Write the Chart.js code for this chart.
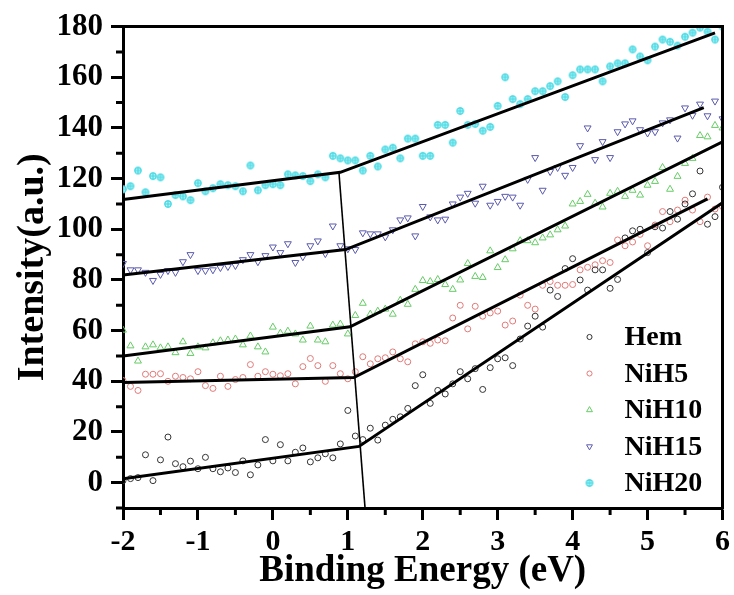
<!DOCTYPE html>
<html>
<head>
<meta charset="utf-8">
<script src="https://cdn.jsdelivr.net/npm/chart.js@4.4.1/dist/chart.umd.min.js"></script>
<style>
  html, body { margin: 0; padding: 0; background: #fff; }
  #wrap { width: 734px; height: 595px; }
</style>
</head>
<body>
<div id="wrap"><canvas id="xpsChart" width="734" height="595"></canvas></div>
<script>
const energy = [
  -2.0, -1.9, -1.8, -1.7, -1.6, -1.5, -1.4, -1.3, -1.2, -1.1,
  -1.0, -0.9, -0.8, -0.7, -0.6, -0.5, -0.4, -0.3, -0.2, -0.1,
  0.0, 0.1, 0.2, 0.3, 0.4, 0.5, 0.6, 0.7, 0.8, 0.9,
  1.0, 1.1, 1.2, 1.3, 1.4, 1.5, 1.6, 1.7, 1.8, 1.9,
  2.0, 2.1, 2.2, 2.3, 2.4, 2.5, 2.6, 2.7, 2.8, 2.9,
  3.0, 3.1, 3.2, 3.3, 3.4, 3.5, 3.6, 3.7, 3.8, 3.9,
  4.0, 4.1, 4.2, 4.3, 4.4, 4.5, 4.6, 4.7, 4.8, 4.9,
  5.0, 5.1, 5.2, 5.3, 5.4, 5.5, 5.6, 5.7, 5.8, 5.9,
  6.0
];

const hem = [
  0.8, 1.6, 2, 11, 0.8, 9, 18, 7.5, 6.3, 8.5,
  5.5, 10, 5.5, 4.3, 5.8, 4, 8.6, 3.1, 7, 17,
  8.6, 15, 8.6, 12, 13.7, 8.2, 9.8, 11.4, 9.8, 15.3,
  28.5, 18.4, 17, 21.5, 16.8, 22.7, 25, 26, 29.3, 38.3,
  42.6, 31.3, 36.4, 35, 39, 43.8, 41, 45, 36.8, 45.4,
  48.9, 49.3, 46.2, 56.7, 61.8, 65.7, 61.4, 76, 73.5, 84.5,
  88.4, 80, 76, 84, 84, 76.7, 80.2, 96.6, 99.4, 100,
  90.8, 101, 100.5, 107, 104, 110, 114, 123, 102, 105,
  116.6
];

const nih5 = [
  40.3, 38, 36.4, 42.8, 42.8, 43, 40, 42, 41.5, 41,
  43.8, 38.3, 37.2, 42, 38, 40.7, 41.5, 46.6, 42, 43.8,
  42.8, 42.2, 43, 39, 45.8, 49, 46.2, 40, 46.2, 43,
  41, 43.8, 49.7, 46.9, 48.9, 49.3, 51.6, 48.9, 47.7, 54.8,
  55.6, 55, 56.3, 56, 65, 70, 60.7, 69.6, 65.7, 67,
  67.7, 62.2, 63.8, 74, 70, 68.5, 77.9, 79.4, 77.9, 77.9,
  78.2, 84, 85, 86, 87.6, 86.9, 95.8, 93.5, 95, 98,
  93.5, 101.7, 107, 103, 107.6, 111.5, 107.6, 103, 112.7, 108,
  109
];

const nih10 = [
  60.2, 54, 48, 53.6, 54.4, 53.2, 53.6, 51.3, 55.6, 51,
  53.6, 53.2, 55.2, 56, 56.3, 56.7, 54.4, 57.9, 53.6, 51.6,
  61.4, 59, 59.8, 58.7, 56.3, 61.8, 56.3, 55.6, 62.2, 62.6,
  58.7, 66, 70.8, 66.5, 67.7, 68.5, 66.5, 72, 70.4, 76.3,
  79.8, 79.4, 80.2, 78.2, 76.3, 80, 86.5, 81.4, 81, 91.5,
  84.9, 88, 92.3, 95.5, 95.5, 94.7, 96.6, 97.8, 99.8, 101.3,
  110, 111, 113.8, 110.3, 108.8, 114.2, 115, 113, 115.4, 113.5,
  117.4, 118.9, 124.4, 115.8, 120.9, 126, 128, 137, 136.5, 141,
  140
];

const nih15 = [
  86.5, 84, 84, 83, 79.8, 82.2, 83.7, 83, 87.2, 90,
  83.7, 83.7, 84, 84.9, 85.3, 85.7, 88, 90, 87.2, 89.6,
  93, 90.8, 94.3, 86.9, 89.2, 93.5, 95.4, 90.4, 101.3, 93.5,
  92.3, 92, 98.6, 98.2, 98.2, 97, 99.8, 103.7, 104.5, 97.4,
  109, 104.9, 103.7, 104, 110, 112.7, 114.2, 110.3, 117, 109.5,
  111, 113, 112.7, 109.5, 119.7, 128.3, 115.4, 122.8, 124.4, 121.3,
  124.4, 133, 140, 127.5, 134.6, 128.3, 138.5, 141.6, 142.8, 139.3,
  138, 138.5, 142, 143.2, 136, 147.9, 145, 149.4, 144.8, 150.6,
  143.6
];

const nih20 = [
  115.8, 117, 123.2, 114.6, 121, 120.5, 110, 113.5, 113, 111.5,
  118.2, 115, 116.2, 117.8, 117.4, 117, 115, 125.2, 115.4, 117.4,
  117.8, 117.4, 121.7, 121.3, 121, 119, 121.7, 120.5, 129, 128,
  127.2, 127.2, 123.2, 129, 124.8, 131.5, 132.2, 128, 135.8, 135.8,
  129, 129, 141.2, 141.2, 134.2, 146.7, 141.2, 141.6, 138.9, 140.4,
  148.7, 160, 151.4, 149.4, 151.4, 154.5, 154.5, 156.5, 158.4, 152.2,
  160.8, 163.1, 163.1, 163.1, 158.4, 164.3, 165.5, 165.5, 171, 168.2,
  166.7, 172.1, 174.9, 174, 172.5, 176, 177.6, 179.6, 178, 174.9,
  180
];

// two-segment linear fits (start, break point, end) and the line joining the breaks
const fitHem = [[-2, 1.5], [1.15, 14.3], [6, 110.5]];
const fitNiH5 = [[-2, 39.5], [1.08, 41.5], [5.8, 112]];
const fitNiH10 = [[-2, 50], [1.03, 61.5], [6, 134.5]];
const fitNiH15 = [[-2, 82], [0.97, 92], [5.75, 148]];
const fitNiH20 = [[-2, 111.8], [0.9, 122.5], [5.9, 177.5]];
const breakLine = [[0.88, 123], [1.23, -10]];

const xMajor = [-2, -1, 0, 1, 2, 3, 4, 5, 6];
const xMinor = [-1.5, -0.5, 0.5, 1.5, 2.5, 3.5, 4.5, 5.5];
const yMajor = [0, 20, 40, 60, 80, 100, 120, 140, 160, 180];
const yMinor = [-10, 10, 30, 50, 70, 90, 110, 130, 150, 170];

const serif = "'Liberation Serif', 'Times New Roman', serif";

function pts(ys) {
  return energy.map((x, i) => ({ x: x, y: ys[i] }));
}
function seg(list) {
  return list.map(p => ({ x: p[0], y: p[1] }));
}

// NiH20 marker: pale cyan disc with a cross through it
function crossDisc(r) {
  const c = document.createElement('canvas');
  const s = Math.ceil(r * 2 + 2);
  c.width = s; c.height = s;
  const g = c.getContext('2d');
  const m = s / 2;
  g.fillStyle = '#b4f3f7';
  g.beginPath(); g.arc(m, m, r, 0, Math.PI * 2); g.fill();
  g.strokeStyle = '#45d8e2';
  g.lineWidth = 1.1;
  g.beginPath();
  g.moveTo(m - r, m); g.lineTo(m + r, m);
  g.moveTo(m, m - r); g.lineTo(m, m + r);
  g.stroke();
  g.beginPath(); g.arc(m, m, r - 0.6, 0, Math.PI * 2); g.stroke();
  return c;
}

const series = [
  { label: 'Hem', values: hem, color: '#333333', style: 'circle', rot: 0, r: 3 },
  { label: 'NiH5', values: nih5, color: '#e07a78', style: 'circle', rot: 0, r: 3 },
  { label: 'NiH10', values: nih10, color: '#66cc66', style: 'triangle', rot: 0, r: 4 },
  { label: 'NiH15', values: nih15, color: '#5a5aae', style: 'triangle', rot: 180, r: 4 },
  { label: 'NiH20', values: nih20, color: '#45d8e2', style: crossDisc(3.7), rot: 0, r: 3.7 }
];

const datasets = series.map(s => ({
  label: s.label,
  data: pts(s.values),
  showLine: false,
  pointStyle: s.style,
  pointRotation: s.rot,
  pointRadius: s.r,
  pointBorderWidth: 1,
  pointBorderColor: s.color,
  pointBackgroundColor: 'rgba(0,0,0,0)',
  order: 1
}));

[fitHem, fitNiH5, fitNiH10, fitNiH15, fitNiH20].forEach(f => {
  datasets.push({
    label: 'fit',
    data: seg(f),
    showLine: true,
    borderColor: '#000',
    borderWidth: 3,
    pointRadius: 0,
    order: 0
  });
});
datasets.push({
  label: 'break',
  data: seg(breakLine),
  showLine: true,
  borderColor: '#000',
  borderWidth: 1.6,
  pointRadius: 0,
  order: 0
});

const frame = {
  id: 'frame',
  afterDraw(chart) {
    const { ctx, chartArea: a, scales: { x, y } } = chart;
    ctx.save();
    ctx.strokeStyle = '#000';
    ctx.lineWidth = 3;
    ctx.beginPath();
    xMinor.forEach(v => {
      const px = x.getPixelForValue(v);
      ctx.moveTo(px, a.bottom); ctx.lineTo(px, a.bottom + 7);
    });
    yMinor.forEach(v => {
      const py = y.getPixelForValue(v);
      ctx.moveTo(a.left, py); ctx.lineTo(a.left - 7, py);
    });
    ctx.stroke();
    ctx.beginPath();
    ctx.moveTo(a.left - 1.5, a.top);
    ctx.lineTo(a.right, a.top);
    ctx.lineTo(a.right, a.bottom + 1.5);
    ctx.stroke();
    ctx.restore();
  }
};

// legend sits inside the plot, lower right
const innerLegend = {
  id: 'innerLegend',
  afterDraw(chart) {
    const { ctx, chartArea: a } = chart;
    const mx = a.right - 133;
    const tx = a.right - 98;
    const y0 = a.bottom - 171;
    ctx.save();
    ctx.font = 'bold 28px ' + serif;
    ctx.textBaseline = 'middle';
    series.forEach((s, i) => {
      const yy = y0 + i * 36.5;
      ctx.strokeStyle = s.color;
      ctx.fillStyle = 'rgba(0,0,0,0)';
      ctx.lineWidth = 1;
      Chart.helpers.drawPoint(ctx, {
        pointStyle: s.style, rotation: s.rot, radius: s.r * 0.85, borderWidth: 1
      }, mx, yy);
      ctx.fillStyle = '#000';
      ctx.fillText(s.label, tx, yy + 1);
    });
    ctx.restore();
  }
};

new Chart(document.getElementById('xpsChart'), {
  type: 'scatter',
  data: { datasets: datasets },
  options: {
    responsive: false,
    animation: false,
    devicePixelRatio: 1,
    layout: { padding: { top: 20, right: 8, left: 0, bottom: 0 } },
    plugins: {
      legend: { display: false },
      tooltip: { enabled: false }
    },
    scales: {
      x: {
        type: 'linear',
        min: -2,
        max: 6,
        afterBuildTicks: s => { s.ticks = xMajor.map(v => ({ value: v })); },
        afterFit: s => { s.height = 87; },
        ticks: {
          color: '#000',
          font: { family: serif, size: 30, weight: 'bold' },
          padding: 4,
          maxRotation: 0,
          autoSkip: false
        },
        grid: { drawOnChartArea: false, drawTicks: true, tickLength: 12, tickWidth: 3, tickColor: '#000' },
        border: { display: true, color: '#000', width: 3 },
        title: {
          display: true,
          text: 'Binding Energy (eV)',
          color: '#000',
          font: { family: serif, size: 37, weight: 'bold' },
          padding: { top: 0, bottom: 1 }
        }
      },
      y: {
        type: 'linear',
        min: -10,
        max: 180,
        afterBuildTicks: s => { s.ticks = yMajor.map(v => ({ value: v })); },
        afterFit: s => { s.width = 123; },
        ticks: {
          color: '#000',
          font: { family: serif, size: 31, weight: 'bold' },
          padding: 8,
          autoSkip: false
        },
        grid: { drawOnChartArea: false, drawTicks: true, tickLength: 12, tickWidth: 3, tickColor: '#000' },
        border: { display: true, color: '#000', width: 3 },
        title: {
          display: true,
          text: 'Intensity(a.u.)',
          color: '#000',
          font: { family: serif, size: 38, weight: 'bold' },
          padding: { top: 10, bottom: 0 }
        }
      }
    }
  },
  plugins: [frame, innerLegend]
});
</script>
</body>
</html>
